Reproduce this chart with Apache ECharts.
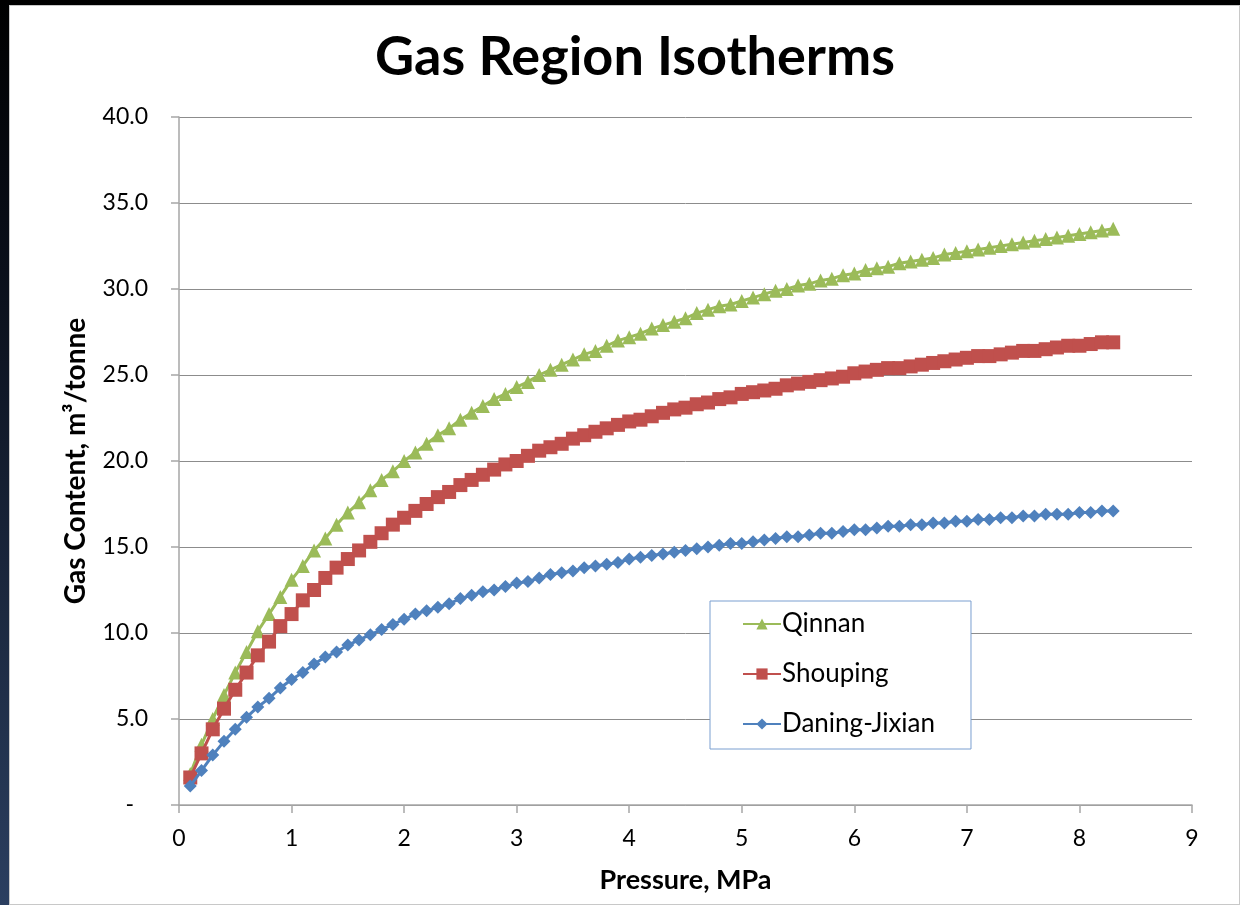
<!DOCTYPE html>
<html>
<head>
<meta charset="utf-8">
<script src="https://cdn.jsdelivr.net/npm/echarts@6/dist/echarts.min.js"></script>
<style>
html,body{margin:0;padding:0;width:1240px;height:905px;overflow:hidden;background:linear-gradient(to bottom,#000 0%,#0a0f1a 30%,#2b3f60 100%);}
#frame{position:absolute;left:9px;top:5px;width:1229px;height:898px;background:#fff;border:1px solid #c8c8c8;}
#chart{width:1229px;height:898px;}
</style>
</head>
<body>
<div id="frame"><div id="chart"></div></div>
<script>
const pressure = [0.1,0.2,0.3,0.4,0.5,0.6,0.7,0.8,0.9,1.0,1.1,1.2,1.3,1.4,1.5,1.6,1.7,1.8,1.9,2.0,2.1,2.2,2.3,2.4,2.5,2.6,2.7,2.8,2.9,3.0,3.1,3.2,3.3,3.4,3.5,3.6,3.7,3.8,3.9,4.0,4.1,4.2,4.3,4.4,4.5,4.6,4.7,4.8,4.9,5.0,5.1,5.2,5.3,5.4,5.5,5.6,5.7,5.8,5.9,6.0,6.1,6.2,6.3,6.4,6.5,6.6,6.7,6.8,6.9,7.0,7.1,7.2,7.3,7.4,7.5,7.6,7.7,7.8,7.9,8.0,8.1,8.2,8.3];
const qinnan = [1.8,3.5,5.0,6.4,7.7,8.9,10.1,11.1,12.1,13.1,13.9,14.8,15.5,16.3,17.0,17.6,18.3,18.9,19.4,20.0,20.5,21.0,21.5,21.9,22.4,22.8,23.2,23.6,23.9,24.3,24.6,25.0,25.3,25.6,25.9,26.2,26.4,26.7,27.0,27.2,27.4,27.7,27.9,28.1,28.3,28.6,28.8,29.0,29.1,29.3,29.5,29.7,29.9,30.0,30.2,30.3,30.5,30.6,30.8,30.9,31.1,31.2,31.3,31.5,31.6,31.7,31.8,32.0,32.1,32.2,32.3,32.4,32.5,32.6,32.7,32.8,32.9,33.0,33.1,33.2,33.3,33.4,33.5];
const shouping = [1.6,3.0,4.4,5.6,6.7,7.7,8.7,9.5,10.4,11.1,11.9,12.5,13.2,13.8,14.3,14.8,15.3,15.8,16.3,16.7,17.1,17.5,17.9,18.2,18.6,18.9,19.2,19.5,19.8,20.0,20.3,20.6,20.8,21.0,21.3,21.5,21.7,21.9,22.1,22.3,22.4,22.6,22.8,23.0,23.1,23.3,23.4,23.6,23.7,23.9,24.0,24.1,24.2,24.4,24.5,24.6,24.7,24.8,24.9,25.1,25.2,25.3,25.4,25.4,25.5,25.6,25.7,25.8,25.9,26.0,26.1,26.1,26.2,26.3,26.4,26.4,26.5,26.6,26.7,26.7,26.8,26.9,26.9];
const daning = [1.1,2.0,2.9,3.7,4.4,5.1,5.7,6.2,6.8,7.3,7.7,8.2,8.6,8.9,9.3,9.6,9.9,10.2,10.5,10.8,11.1,11.3,11.5,11.7,12.0,12.2,12.4,12.5,12.7,12.9,13.0,13.2,13.4,13.5,13.6,13.8,13.9,14.0,14.1,14.3,14.4,14.5,14.6,14.7,14.8,14.9,15.0,15.1,15.2,15.2,15.3,15.4,15.5,15.6,15.6,15.7,15.8,15.8,15.9,16.0,16.0,16.1,16.2,16.2,16.3,16.3,16.4,16.4,16.5,16.5,16.6,16.6,16.7,16.7,16.8,16.8,16.9,16.9,16.9,17.0,17.0,17.1,17.1];
const seriesNames = ['Qinnan','Shouping','Daning-Jixian'];

const font = 'Lato, "Open Sans", sans-serif';
function pairs(ys){ return pressure.map((p,i)=>[p, ys[i]]); }

const chart = echarts.init(document.getElementById('chart'), null, {renderer:'canvas'});
chart.setOption({
  animation:false,
  backgroundColor:'#fff',
  textStyle:{fontFamily:font},
  title:{
    text:'Gas Region Isotherms',
    left:360, top:20,
    padding:[5,5,5,5],
    textStyle:{fontFamily:font,fontSize:54,fontWeight:'bold',color:'#000'}
  },
  grid:{left:169,right:47,top:111,bottom:99,containLabel:false},
  legend:{
    orient:'vertical',
    left:700, top:595,
    data:seriesNames,
    backgroundColor:'#fff',
    borderColor:'#7a9fd0',
    borderWidth:1,
    borderRadius:0,
    padding:[10,36,12,32],
    itemGap:24,
    itemWidth:38,
    itemHeight:14,
    textStyle:{fontFamily:font,fontSize:26,color:'#000',padding:[0,0,0,-4]}
  },
  xAxis:{
    type:'value', min:0, max:9, interval:1,
    name:'Pressure, MPa', nameLocation:'middle', nameGap:62,
    nameTextStyle:{fontFamily:font,fontSize:27,fontWeight:'bold',color:'#000'},
    axisLine:{show:true,lineStyle:{color:'#a6a6a6',width:1.5}},
    axisTick:{show:true,inside:false,length:8,lineStyle:{color:'#a6a6a6',width:1.5}},
    axisLabel:{fontFamily:font,fontSize:23,color:'#000',margin:22},
    splitLine:{show:false}
  },
  yAxis:{
    type:'value', min:0, max:40, interval:5,
    name:'Gas Content, m³/tonne', nameLocation:'middle', nameGap:89, nameRotate:90,
    nameTextStyle:{fontFamily:font,fontSize:28,fontWeight:'bold',color:'#000'},
    axisLine:{show:true,lineStyle:{color:'#a6a6a6',width:1.5}},
    axisTick:{show:true,inside:false,length:8,lineStyle:{color:'#a6a6a6',width:1.5}},
    axisLabel:{fontFamily:font,fontSize:23,color:'#000',margin:31,
      formatter:function(v){return v===0?'{dash|-}':v.toFixed(1);},
      rich:{dash:{fontFamily:font,fontSize:23,color:'#000',padding:[0,14,0,0]}}},
    splitLine:{show:true,lineStyle:{color:'#8c8c8c',width:1}}
  },
  series:[
    {name:seriesNames[0],type:'line',data:pairs(qinnan),symbol:'triangle',symbolSize:14,showAllSymbol:true,
     itemStyle:{color:'#9BBB59'},lineStyle:{color:'#9BBB59',width:3},z:2},
    {name:seriesNames[1],type:'line',data:pairs(shouping),symbol:'rect',symbolSize:14,showAllSymbol:true,
     itemStyle:{color:'#C0504D'},lineStyle:{color:'#C0504D',width:3},z:3},
    {name:seriesNames[2],type:'line',data:pairs(daning),symbol:'diamond',symbolSize:13,showAllSymbol:true,
     itemStyle:{color:'#4F81BD'},lineStyle:{color:'#4F81BD',width:3},z:4}
  ]
});
</script>
</body>
</html>
